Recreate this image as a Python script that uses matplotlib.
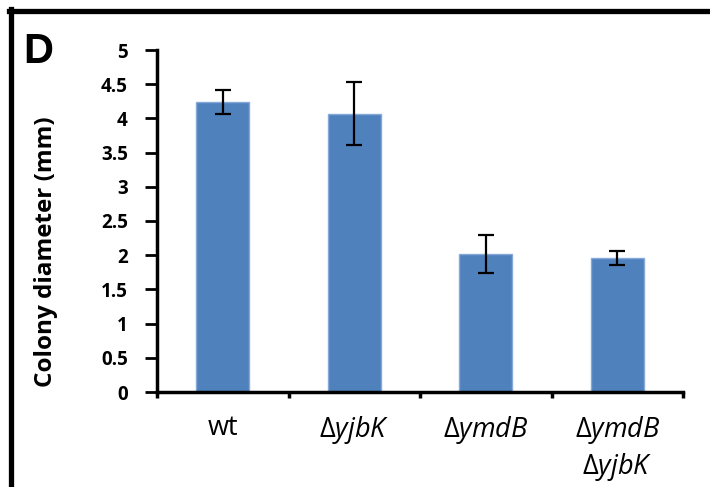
import numpy as np
import matplotlib
matplotlib.use("Agg")
import matplotlib.pyplot as plt
from matplotlib.lines import Line2D

# data
strains = ["wt", r"$\Delta\mathit{yjbK}$", r"$\Delta\mathit{ymdB}$",
           "$\\Delta\\mathit{ymdB}$\n$\\Delta\\mathit{yjbK}$"]
diameter = [4.24, 4.07, 2.02, 1.96]
err = [0.18, 0.46, 0.28, 0.10]
yticks = [0, 0.5, 1, 1.5, 2, 2.5, 3, 3.5, 4, 4.5, 5]
ytick_labels = ["0", "0.5", "1", "1.5", "2", "2.5", "3", "3.5", "4", "4.5", "5"]

plt.rcParams['font.family'] = ['Open Sans', 'DejaVu Sans']
plt.rcParams['mathtext.fontset'] = 'custom'
plt.rcParams['mathtext.rm'] = 'Open Sans'
plt.rcParams['mathtext.it'] = 'Open Sans:italic'

W, H = 710, 487
fig = plt.figure(figsize=(W / 100, H / 100), dpi=100)
ax = fig.add_axes([157 / W, 1 - 392 / H, 526 / W, 342 / H])

x = np.arange(len(strains))
ax.bar(x, diameter, width=0.4, color='#4F81BD', edgecolor='#86A9D8', linewidth=1,
       yerr=err, capsize=6, error_kw=dict(ecolor='black', elinewidth=1.6, capthick=1.6),
       zorder=2)

ax.set_xlim(-0.5, len(strains) - 0.5)
ax.set_ylim(0, 5)
ax.set_yticks(yticks)
ax.set_yticklabels(ytick_labels, fontsize=13.5, fontweight='bold')
ax.tick_params(axis='y', length=9, width=2, pad=12)

# ticks between categories, labels under the bars
ax.set_xticks(np.arange(-0.5, len(strains), 1.0))
ax.set_xticklabels([])
ax.tick_params(axis='x', which='major', length=4, width=2.5)
ax.set_xticks(x, minor=True)
ax.set_xticklabels(strains, minor=True, fontsize=19.5)
ax.tick_params(axis='x', which='minor', length=0, pad=16)

for s in ['top', 'right']:
    ax.spines[s].set_visible(False)
for s in ['left', 'bottom']:
    ax.spines[s].set_linewidth(2.5)

ax.set_ylabel("Colony diameter (mm)", fontsize=17.5, fontweight='bold')
ax.yaxis.set_label_coords(-0.188, 0.41)

# panel frame and letter
fig.add_artist(Line2D([9 / W, 1], [1 - 10.5 / H, 1 - 10.5 / H], color='black', lw=3.8,
                      transform=fig.transFigure))
fig.add_artist(Line2D([10.5 / W, 10.5 / W], [0, 1 - 9 / H], color='black', lw=3.8,
                      transform=fig.transFigure))
fig.text(23 / W, 1 - 63 / H, "D", fontsize=30, fontweight='bold',
         family='Liberation Sans', va='baseline', ha='left')

fig.savefig("out.png", dpi=100)
